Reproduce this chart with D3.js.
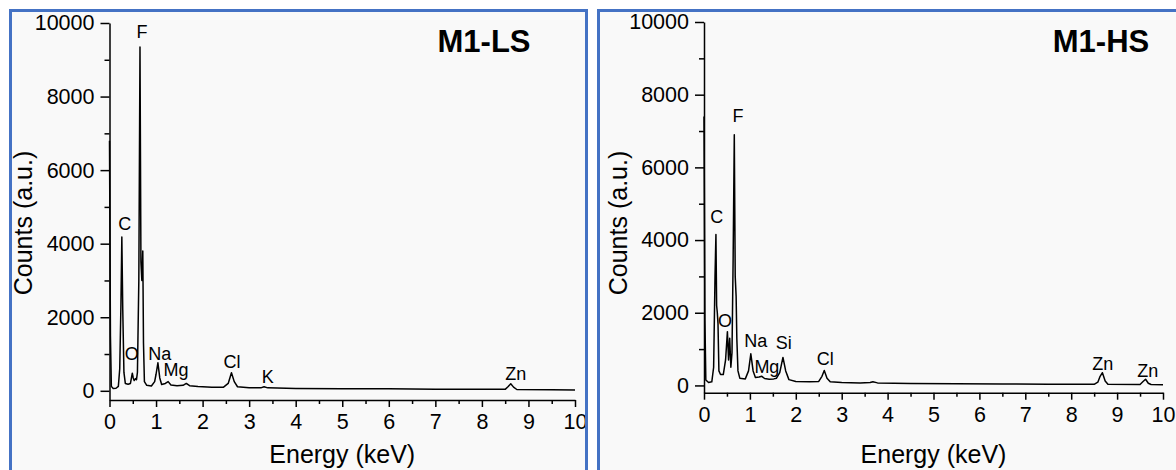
<!DOCTYPE html>
<html><head><meta charset="utf-8">
<script src="https://cdn.jsdelivr.net/npm/d3@7"></script>
<style>
html,body{margin:0;padding:0;background:#fff;}
svg{display:block;font-family:"Liberation Sans",Arial,sans-serif;}
</style></head>
<body>
<svg id="chart" width="1176" height="470"></svg>
<script>
// ---- Data ----
const energyLS = [0.00,0.02,0.04,0.08,0.14,0.19,0.22,0.245,0.265,0.285,0.31,0.34,0.40,0.45,0.49,0.51,0.53,0.56,0.58,0.60,0.63,0.655,0.675,0.695,0.715,0.73,0.75,0.80,0.90,0.97,1.00,1.04,1.08,1.12,1.20,1.26,1.32,1.45,1.58,1.65,1.72,1.90,2.20,2.45,2.55,2.62,2.68,2.75,3.00,3.25,3.32,3.40,4.00,5.00,6.00,7.00,8.00,8.50,8.56,8.62,8.68,8.75,9.50,10.00];
const countsLS = [6800,1500,120,60,70,120,600,2300,4180,2200,500,200,180,200,480,350,280,330,300,500,3000,9350,3500,3000,3800,1300,250,150,130,250,450,760,350,170,200,250,160,140,150,200,140,120,100,100,200,490,250,110,80,80,110,80,65,55,55,45,40,40,110,190,100,35,30,25];

const energyHS = [0.00,0.02,0.04,0.10,0.17,0.21,0.24,0.26,0.275,0.29,0.305,0.325,0.36,0.42,0.47,0.51,0.535,0.56,0.585,0.61,0.635,0.66,0.68,0.70,0.715,0.74,0.78,0.90,0.97,1.02,1.07,1.12,1.20,1.26,1.32,1.42,1.52,1.58,1.65,1.72,1.78,1.85,2.00,2.30,2.50,2.57,2.62,2.68,2.75,3.00,3.40,3.62,3.68,3.78,4.50,5.50,6.50,7.50,8.50,8.58,8.63,8.68,8.74,8.80,9.50,9.56,9.62,9.68,9.74,10.00];
const countsHS = [7400,1800,150,80,100,500,3000,4150,2200,2000,1700,400,300,300,700,1480,700,1300,500,900,3500,6900,3000,2450,1300,400,200,180,400,870,400,220,230,250,190,170,180,200,350,770,400,160,110,100,110,250,410,200,100,80,70,80,100,70,50,45,40,35,30,90,250,350,120,30,25,100,170,60,25,20];

const labelTextLS = ["F","C","O","Na","Mg","Cl","K","Zn"];
const labelEnergyLS = [0.70,0.33,0.48,1.08,1.43,2.63,3.40,8.73];
const labelCountsLS = [9600,4370,840,840,400,620,210,290];

const labelTextHS = ["F","C","O","Na","Mg","Si","Cl","Zn","Zn"];
const labelEnergyHS = [0.74,0.28,0.46,1.13,1.37,1.74,2.64,8.69,9.67];
const labelCountsHS = [7250,4470,1610,1060,340,1000,560,425,230];

const xTicks = [0,1,2,3,4,5,6,7,8,9,10];
const yTicks = [0,2000,4000,6000,8000,10000];
const titles = ["M1-LS","M1-HS"];
const xTitle = "Energy (keV)";
const yTitle = "Counts (a.u.)";

// ---- Layout ----
const panels = [
  {title:titles[0], E:energyLS, C:countsLS, lt:labelTextLS, le:labelEnergyLS, lc:labelCountsLS,
   box:[10.5,10.5,576,470], x0:109.5, x1:575, yTop:23, yBot:400, yMin:-250, titleX:484, ytX:23},
  {title:titles[1], E:energyHS, C:countsHS, lt:labelTextHS, le:labelEnergyHS, lc:labelCountsHS,
   box:[598.5,10.5,600,470], x0:704, x1:1163, yTop:22, yBot:392.7, yMin:-200, titleX:1101, ytX:618}
];

const svg = d3.select("#chart");

panels.forEach(p => {
  const g = svg.append("g");
  g.append("rect").attr("x",p.box[0]).attr("y",p.box[1]).attr("width",p.box[2]).attr("height",p.box[3])
    .attr("fill","#f9f9f9");

  const x = d3.scaleLinear().domain([0,10]).range([p.x0,p.x1]);
  const y = d3.scaleLinear().domain([p.yMin,10000]).range([p.yBot,p.yTop]);

  // minor ticks
  g.append("g").attr("transform",`translate(0,${p.yBot})`)
    .call(d3.axisBottom(x).tickValues(d3.range(0.5,10,1)).tickSize(4).tickFormat(""))
    .call(a=>a.select(".domain").remove());
  g.append("g").attr("transform",`translate(${p.x0},0)`)
    .call(d3.axisLeft(y).tickValues([1000,3000,5000,7000,9000]).tickSize(5).tickFormat(""))
    .call(a=>a.select(".domain").remove());

  const xa = g.append("g").attr("transform",`translate(0,${p.yBot})`)
    .call(d3.axisBottom(x).tickValues(xTicks).tickSize(7).tickSizeOuter(0).tickPadding(7).tickFormat(d3.format("d")));
  const ya = g.append("g").attr("transform",`translate(${p.x0},0)`)
    .call(d3.axisLeft(y).tickValues(yTicks).tickSize(9).tickSizeOuter(0).tickPadding(6).tickFormat(d3.format("d")));
  [xa,ya].forEach(a=>{
    a.selectAll("text").attr("font-size",21.5).attr("fill","#000").attr("font-family","'Liberation Sans',Arial,sans-serif");
    a.selectAll("line,path").attr("stroke","#000").attr("stroke-width",1.5);
  });
  g.selectAll(".tick line").attr("stroke","#000").attr("stroke-width",1.5);

  // spectrum
  const pts = p.E.map((e,i)=>[e,p.C[i]]);
  g.append("path").datum(pts)
    .attr("d", d3.line().x(d=>x(d[0])).y(d=>y(d[1])))
    .attr("fill","none").attr("stroke","#000").attr("stroke-width",1.5).attr("stroke-linejoin","round");

  // peak labels
  p.lt.forEach((t,i)=>{
    g.append("text").attr("x",x(p.le[i])).attr("y",y(p.lc[i]))
      .attr("text-anchor","middle").attr("font-size",18).attr("fill","#000").text(t);
  });

  // titles
  g.append("text").attr("x",p.titleX).attr("y",52).attr("text-anchor","middle")
    .attr("font-size",31).attr("font-weight","bold").attr("fill","#000").text(p.title);
  g.append("text").attr("x",(p.x0+p.x1)/2).attr("y",463).attr("text-anchor","middle")
    .attr("font-size",25).attr("fill","#000").text(xTitle);
  g.append("text").attr("transform",`translate(${p.ytX+9},223) rotate(-90)`).attr("text-anchor","middle")
    .attr("font-size",25).attr("fill","#000").text(yTitle);

  g.append("rect").attr("x",p.box[0]).attr("y",p.box[1]).attr("width",p.box[2]).attr("height",p.box[3])
    .attr("fill","none").attr("stroke","#4472C4").attr("stroke-width",3);
});
</script>
</body></html>
